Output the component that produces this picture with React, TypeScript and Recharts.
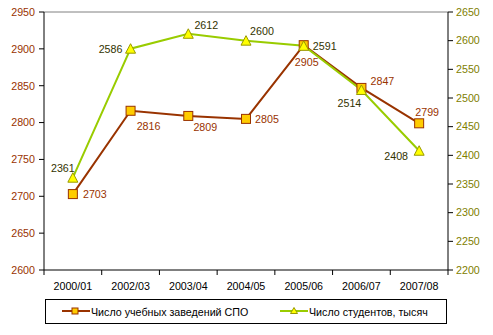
import React from 'react';
import { LineChart, Line, XAxis, YAxis, ReferenceLine, LabelList } from 'recharts';

const categories = ['2000/01', '2002/03', '2003/04', '2004/05', '2005/06', '2006/07', '2007/08'];
const institutions = [2703, 2816, 2809, 2805, 2905, 2847, 2799];
const students = [2361, 2586, 2612, 2600, 2591, 2514, 2408];
const leftTicks = [2600, 2650, 2700, 2750, 2800, 2850, 2900, 2950];
const rightTicks = [2200, 2250, 2300, 2350, 2400, 2450, 2500, 2550, 2600, 2650];

const data = categories.map((name, i) => ({
  name,
  institutions: institutions[i],
  students: students[i],
}));

const FONT = '"Liberation Sans", Arial, sans-serif';
const FS = 10.7;
const W = 493;
const H = 335;
const M = { top: 12, right: 0, bottom: 45, left: 0 };
const PLOT_LEFT = 44;
const PLOT_RIGHT = 448;
const BAND = (PLOT_RIGHT - PLOT_LEFT) / categories.length;

// label offsets (center relative to point), as Excel placed them
const instOffsets = [[22, 0], [18, 15], [17, 11], [21, 0], [3, 17], [21, -7], [8, -11]];
const studOffsets = [[-10, -10], [-20, 0], [18, -9], [16, -10], [21, 0], [-12, 13], [-23, 5]];

const makeLabel = (offsets: number[][], color: string) => (props: any) => {
  const px = props.x ?? props.viewBox?.x;
  const py = props.y ?? props.viewBox?.y;
  const idx = props.index ?? 0;
  const [dx, dy] = offsets[idx] || [0, 0];
  return (
    <text
      key={`lbl-${idx}`}
      x={px + dx}
      y={py + dy}
      fill={color}
      fontSize={FS}
      fontFamily={FONT}
      textAnchor="middle"
      dominantBaseline="central"
    >
      {props.value}
    </text>
  );
};

const SquareDot = (props: any) => {
  const { cx, cy, index } = props;
  return (
    <rect key={`sq-${index}`} x={cx - 4.5} y={cy - 4.5} width={9} height={9}
      fill="#FFCC00" stroke="#993300" strokeWidth={1} />
  );
};

const TriangleDot = (props: any) => {
  const { cx, cy, index } = props;
  return (
    <polygon key={`tr-${index}`}
      points={`${cx},${cy - 5} ${cx - 5},${cy + 4.5} ${cx + 5},${cy + 4.5}`}
      fill="#FFFF00" stroke="#999900" strokeWidth={1} />
  );
};

const CategoryTick = (props: any) => {
  const { x, y, payload, index } = props;
  const axisY = y - 7;
  const left = x - BAND / 2;
  return (
    <g>
      <line x1={left} y1={axisY} x2={left} y2={axisY + 5} stroke="#000" />
      {index === categories.length - 1 && (
        <line x1={x + BAND / 2} y1={axisY} x2={x + BAND / 2} y2={axisY + 5} stroke="#000" />
      )}
      <text x={x} y={axisY + 20} textAnchor="middle" fill="#000" fontSize={FS} fontFamily={FONT}>
        {payload.value}
      </text>
    </g>
  );
};

const Legend = () => (
  <div style={{
    position: 'absolute', left: 45, top: 299, width: 402, height: 25,
    border: '1px solid #000', boxSizing: 'border-box', background: '#fff',
    fontFamily: FONT, fontSize: FS, color: '#000',
  }}>
    <svg width={402} height={23} style={{ position: 'absolute', left: 0, top: 0 }}>
      <line x1={16} y1={11} x2={44} y2={11} stroke="#993300" strokeWidth={2} />
      <rect x={26} y={8} width={6} height={6} fill="#FFCC00" stroke="#993300" />
      <text x={45} y={11.5} dominantBaseline="central" fontSize={FS} fontFamily={FONT}>
        Число учебных заведений СПО
      </text>
      <line x1={234} y1={11} x2={262} y2={11} stroke="#99CC00" strokeWidth={2} />
      <polygon points="248,7.5 244.5,13.5 251.5,13.5" fill="#FFFF00" stroke="#999900" />
      <text x={263} y={11.5} dominantBaseline="central" fontSize={FS} fontFamily={FONT}>
        Число студентов, тысяч
      </text>
    </svg>
  </div>
);

export default function App() {
  return (
    <div style={{ position: 'absolute', left: 0, top: 0, width: W, height: H, background: '#fff', fontFamily: FONT }}>
      <LineChart width={W} height={H} data={data} margin={M}>
        <XAxis
          dataKey="name"
          axisLine={{ stroke: '#000' }}
          tickLine={false}
          tickSize={5}
          tickMargin={2}
          interval={0}
          padding={{ left: BAND / 2, right: BAND / 2 }}
          tick={<CategoryTick />}
          height={20}
        />
        <YAxis
          yAxisId="left"
          orientation="left"
          width={PLOT_LEFT}
          domain={[2600, 2950]}
          ticks={leftTicks}
          interval={0}
          axisLine={{ stroke: '#000' }}
          tickLine={{ stroke: '#000' }}
          tickSize={5}
          tickMargin={4}
          tick={{ fill: '#993300', fontSize: FS, fontFamily: FONT }}
        />
        <YAxis
          yAxisId="right"
          orientation="right"
          width={W - PLOT_RIGHT}
          domain={[2200, 2650]}
          ticks={rightTicks}
          interval={0}
          axisLine={{ stroke: '#000' }}
          tickLine={{ stroke: '#000' }}
          tickSize={5}
          tickMargin={3}
          tick={{ fill: '#808000', fontSize: FS, fontFamily: FONT }}
        />
        <ReferenceLine yAxisId="left" y={2950} stroke="#808080" strokeWidth={1} />
        <Line
          yAxisId="left"
          type="linear"
          dataKey="institutions"
          stroke="#993300"
          strokeWidth={2}
          dot={<SquareDot />}
          activeDot={false}
          isAnimationActive={false}
        >
          <LabelList dataKey="institutions" content={makeLabel(instOffsets, '#993300')} />
        </Line>
        <Line
          yAxisId="right"
          type="linear"
          dataKey="students"
          stroke="#99CC00"
          strokeWidth={2}
          dot={<TriangleDot />}
          activeDot={false}
          isAnimationActive={false}
        >
          <LabelList dataKey="students" content={makeLabel(studOffsets, '#333300')} />
        </Line>
      </LineChart>
      <Legend />
    </div>
  );
}
